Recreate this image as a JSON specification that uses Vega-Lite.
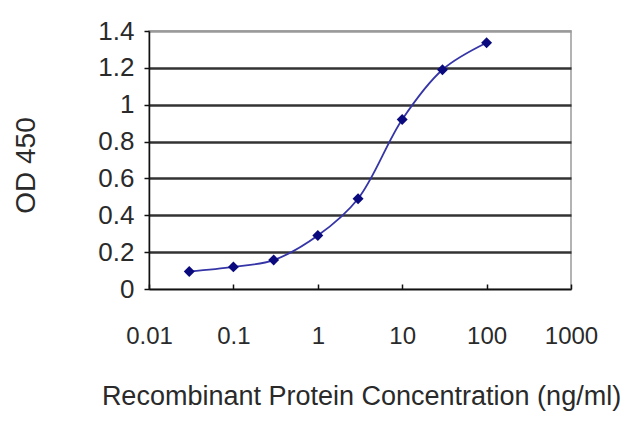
{
  "$schema": "https://vega.github.io/schema/vega-lite/v6.json",
  "width": 422,
  "height": 258,
  "autosize": "none",
  "padding": {"left": 149, "top": 31, "right": 69, "bottom": 138},
  "background": "white",
  "config": {
    "view": {"stroke": "#9a9a9a", "strokeWidth": 1.5},
    "font": "Liberation Sans, Arial",
    "axis": {
      "labelFont": "Liberation Sans, Arial",
      "titleFont": "Liberation Sans, Arial",
      "labelColor": "#2a2a2a",
      "titleColor": "#2a2a2a",
      "labelFontSize": 24,
      "titleFontSize": 27,
      "titleFontWeight": "normal",
      "domainColor": "#111",
      "domainWidth": 1.5,
      "tickColor": "#111",
      "tickWidth": 1.5
    }
  },
  "data": {
    "values": [
      {"conc": 0.03, "od": 0.095},
      {"conc": 0.1, "od": 0.12},
      {"conc": 0.3, "od": 0.157},
      {"conc": 1, "od": 0.29},
      {"conc": 3, "od": 0.49},
      {"conc": 10, "od": 0.92},
      {"conc": 30, "od": 1.19},
      {"conc": 100, "od": 1.336}
    ]
  },
  "encoding": {
    "x": {
      "field": "conc",
      "type": "quantitative",
      "scale": {"type": "log", "domain": [0.01, 1000], "nice": false},
      "axis": {
        "values": [0.01, 0.1, 1, 10, 100, 1000],
        "format": "~g",
        "grid": false,
        "tickSize": -5,
        "labelPadding": 52,
        "labelBaseline": "middle",
        "labelFlush": false,
        "title": "Recombinant Protein Concentration (ng/ml)",
        "titleX": 212,
        "titleY": 107,
        "titleAnchor": null,
        "titleAlign": "center",
        "titleBaseline": "middle"
      }
    },
    "y": {
      "field": "od",
      "type": "quantitative",
      "scale": {"domain": [0, 1.4], "nice": false, "zero": true},
      "axis": {
        "values": [0, 0.2, 0.4, 0.6, 0.8, 1, 1.2, 1.4],
        "format": "~g",
        "grid": true,
        "gridColor": {"condition": {"test": "datum.value >= 1.4 || datum.value <= 0", "value": "#9a9a9a"}, "value": "#333333"},
        "gridWidth": 2.5,
        "tickSize": 5,
        "labelPadding": 10,
        "labelFontSize": 26,
        "labelBaseline": "middle",
        "title": "OD 450",
        "titleFontSize": 28,
        "titleAngle": 270,
        "titleX": -123,
        "titleY": 134,
        "titleAlign": "center",
        "titleBaseline": "middle"
      }
    }
  },
  "layer": [
    {
      "mark": {"type": "line", "interpolate": "catmull-rom", "color": "#3535a8", "strokeWidth": 1.8}
    },
    {
      "mark": {"type": "point", "shape": "diamond", "filled": true, "opacity": 1, "color": "#0a0a7e", "size": 120}
    }
  ]
}
